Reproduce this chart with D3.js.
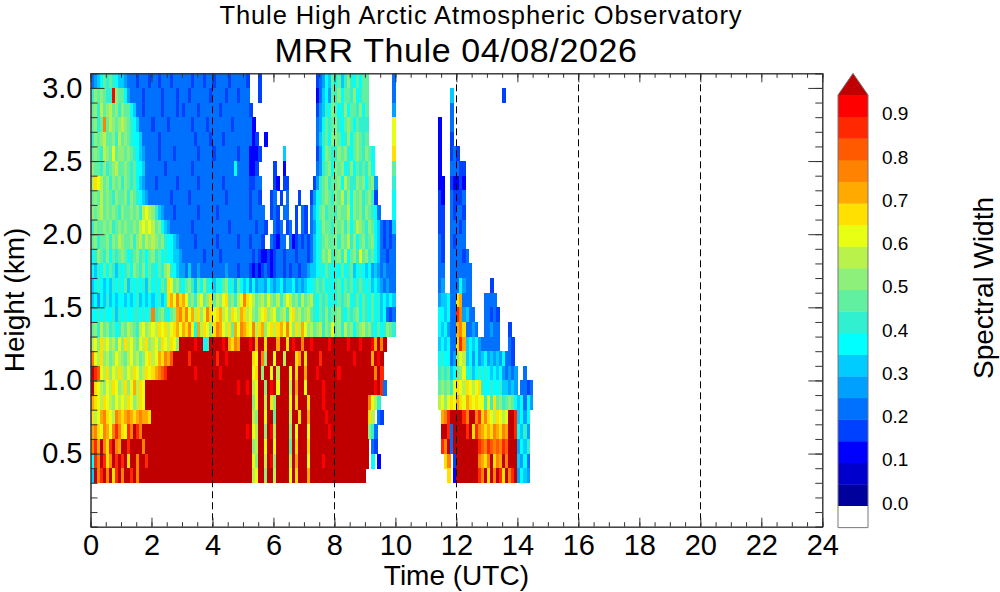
<!DOCTYPE html>
<html>
<head>
<meta charset="utf-8">
<script src="https://cdn.jsdelivr.net/npm/d3@7"></script>
<style>
  body { margin: 0; background: #fff; }
  text { font-family: "Liberation Sans", Arial, Helvetica, sans-serif; fill: #000; }
</style>
</head>
<body>
<div id="chart"></div>
<script>
// Bottom of each range gate (km), top row first
var gateBase = [3.0, 2.9, 2.8, 2.7, 2.6, 2.5, 2.4, 2.3, 2.2, 2.1, 2.0, 1.9, 1.8, 1.7,
                1.6, 1.5, 1.4, 1.3, 1.2, 1.1, 1.0, 0.9, 0.8, 0.7, 0.6, 0.5, 0.4, 0.3];
var gateDepth = 0.1;
var timeStep = 0.1;   // hours per column, groups of 10 = one hour

// spectral width class per cell ("." = no echo), see levelCodes / bandEdges
var widthRows = [
  "4567989876 6544434443 4434443444 4443444344 3444434444 43...3.... .......... ....345769 7968a87979 9........4 .......... .......... .......... .......... ..........",
  "8a9a988ia9 9754444344 4443444434 4434444443 4444344434 44...3.... .......... ....246759 8a7998a789 9........4 .......... ........6. .......... .....3.... ..........",
  "9a8b9ab9a8 a997644344 4443444434 3444434444 4434444444 443....... .......... ....35687a 978a7998a7 9........5 .......... ........4. .......... .......... ..........",
  "9a89f9ba9a ba98764444 3444434444 4443444434 4444443444 4442...... .......... ....457989 a879a97988 8........c .......... ....2...4. .......... .......... ..........",
  "8a9ab99a8b 9a98776444 4434444444 4444344443 4443444444 44423..2.. .......... ....46897a a978a79a98 9........c .......... ....2...3. .......... .......... ..........",
  "9a98ba9c9a a9a9876544 4434444344 4444434444 3444444434 442223.... ...6...... ....357a98 8a9a879a98 a97......d .......... ....2...34 3......... .......... ..........",
  "a998a89ab9 9a98977644 4444344444 4443444444 4444444744 44223..... 3..2...... ....4589a7 a9a78a7989 8a7......9 .......... ....2...44 433....... .......... ..........",
  "bdcb9a8a9a 8a98976544 4344444434 4444434444 4443444444 443344.... 32.33..... ...3589a89 9a7b988a9a 79a5.....8 .......... ....22..32 232....... .......... ..........",
  "9a9b9a98a9 9a8a987654 4444443444 4434444444 4444344444 443443...3 4.3.4...3. ..35789a98 a9b8a7a9a8 9a83.....7 .......... ....32..43 334....... .......... ..........",
  "a9ab9a9a98 a99a9a8bcb a865444344 4444434444 4344444444 4434444..3 43.44..3.4 3.4679a899 8a99b7a9a8 a9874....7 .......... ....33..43 443....... .......... ..........",
  "8a99a9a89a 9a99a9bcbc b9a7654444 4443444444 4444434444 44443443.. 434.34.3.4 3.4578a998 a9a8a79ba9 8a97643436 .......... ....33..44 434....... .......... ..........",
  "9a899a8a9b a99a8ab9ba ba9a877654 4444344444 4344444434 4434443..4 3244.42343 4346789a99 a8a9b8a79a 89a7643434 .......... ....43..43 444....... .......... ..........",
  "78a98a7989 a9789a8979 a897877665 4444444344 4434444444 4443432232 3443444344 434678a9b8 9a8b79a8c9 a897644344 .......... ....43..44 4434...... .......... ..........",
  "7687979868 7897a98a79 8798ab8765 5464454444 4444544434 4432323432 3443434434 4566787987 8797896787 6756545444 .......... ....44..44 44444..... .......... ..........",
  "6787676878 7968787869 78798dc9a8 79a8697a87 6879a78697 6757566576 5675667565 6778989787 8979897898 7867654544 .......... ....45..44 47544..... .3........ ..........",
  "6757686767 7676786767 67867decfd ec9a8bc9ad 9bacd9a8bc fdcb9ab9ca 9b8acb9a8b 9ab8798978 7989a78979 8797867676 .......... ....566744 de444....4 444....... ..........",
  "7787877868 7877887878 f89a879aef dfcebdacfd cdebcadcbe dbca9bcdab c9ab8cdab9 ab98798a89 9a87989a79 8797867434 .......... ....776744 hf5644...4 4343...... ..........",
  "9a8b9a8978 a9ba98bcab cbdcdbcdec edfc7ebdca dfecbd9ecf edcfbdeacd bdecfcadbe cab9ab8a9c 9a8b9a79ab 9a87978a98 .......... ....767544 efd4454..4 4544...3.. ..........",
  "bcadbcab9c adbca9cbda bcadcbdcaj jjjjijj78j jjjijedfej jjijejjdjj jejjdjijjf jjijjjjjij jjjjijjjij jjiejfj... .......... ....676744 dhe6767544 4444...43. ..........",
  "fcbdab9acb a9bcab9acd bcedfegjjj jjhjjjjjjj jhjjijjjjj jjjdcjfajj cjjbjjjdej djjjjhjjjj jjjjjjijjj jjejij.... .......... ....787745 acb6757567 565657443. ..........",
  "jhgcbdacbd bacbdcabdc defghjjjjj jjjjijjjjj jjijjjjjjj jjjcdjajjc jbjjjcjdjj ejjjijjjjj jijjjjjjjj jjjfjh.... .......... ....898967 9ac7867878 7676754545 ..4.......",
  "jdcbacbdca bdacebdcjj jjjjjjjjjj jjjjjjjjjj jjjjjjjjij jijbcjjaji jcjjjbjejj cjjjjjijjj jjjjjjjjjj jjjijh4... .......... ....9a9a8c dcbdcbcd87 7877866565 .4434.....",
  "edcbdcbacb cbdcabdcjj jjjjjjjjjj jjjjjjjjjj jjjjjjjjjj jjjacjjbjd ajjjjcjdjj jdjjjjijjj jjjjjjjjjj jfcb8..... .......... ....bcacdc edcedcdcc8 c8d9a89a97 67475.....",
  "dbcefdcbfe defedefeed jjjjjjjjjj jjjjjjjjjj jjjjjjjjjj jjjbajjcjj 9jjjjbjjdj jejjjjjijj jjjjjjjjjj jdb.43.... .......... .....efhjj jjhfjjfhdf dcbdcbcjjh 6757......",
  "efdcfecfhf dchfjhfjjj jjjjjjjjjj jjjjjjjjjj jjjjjjjjjj jijcbjjaji bjjjjajcjj jcjjjjjjij jjjjjjjjjj ja84...... .......... .....jjh4j jjjhjdhfed edfedfejjh 7685......",
  "fhejfdhjfe jjhjjjjfjj jjjjjjjjjj jjjjjjjjjj jjjjjjjjjj jjjabjjcjj cjjjj9jdjj jdjjjjjjjj jjjjjjjjjj j.43...... .......... .....hfj4j jjjjjjjhgf hgfgfhgjjj 5768......",
  "7hfjhdfjhj hjdjjfjjhj jjjjjjjjjj jjjjjjjjjj jjjjjjjjjj jjjcajjbji ajjjjbjejj jcjjjjijjj jjjjjjjjjj j.7.2..... .......... ......df.3 jjjjjjjfed fjdfejfjjj 6574......",
  "6jfhjfjdhj fjjhjfjjjj jjjjjjjjjj jjjjjjjjjj jjjjjjjjjj jjjbcjjajj bjjjjcjdjj jejjjjjjjj jjjjjjjjjj .......... .......... .......d.2 jjjjjjjhfj djfjhdjfhj 5765......"
];

// colour classes: 0.00-0.05 ... 0.90-0.95, then over-range
var levelCodes = "0123456789abcdefghij";
var bandEdges = [0.00, 0.05, 0.10, 0.15, 0.20, 0.25, 0.30, 0.35, 0.40, 0.45,
                 0.50, 0.55, 0.60, 0.65, 0.70, 0.75, 0.80, 0.85, 0.90, 0.95];
var bandColors = ["#00009c", "#0000cc", "#0000ff", "#0040ff", "#0070ff", "#00a0ff", "#00ccff",
                  "#00ffff", "#30f0d0", "#60f0a0", "#8cf07a", "#b8f24a", "#e8ff14", "#ffe000",
                  "#ffaa00", "#ff8200", "#ff5a00", "#ff2800", "#ff0000", "#c00000"];
var colorbarTicks = [0.0, 0.1, 0.2, 0.3, 0.4, 0.5, 0.6, 0.7, 0.8, 0.9];

var timeTicks = [0, 2, 4, 6, 8, 10, 12, 14, 16, 18, 20, 22, 24];
var heightTicks = [0.5, 1.0, 1.5, 2.0, 2.5, 3.0];
var markerHours = [4, 8, 12, 16, 20];

var svgWidth = 1000;
var svgHeight = 592;
var plot = { left: 90.5, right: 822.3, top: 73.3, bottom: 526.7 };

var svg = d3.select("#chart")
    .append("svg")
    .attr("width", svgWidth)
    .attr("height", svgHeight);

var xScale = d3.scaleLinear().domain([0, 24]).range([plot.left, plot.right]);
var yScale = d3.scaleLinear().domain([0, 3.1]).range([plot.bottom, plot.top]);
var colorScale = d3.scaleThreshold().domain(bandEdges.slice(1)).range(bandColors);

// decode rows into cells
var cells = [];
widthRows.forEach(function(row, r) {
    row.replace(/ /g, "").split("").forEach(function(ch, i) {
        if (ch === ".") return;
        cells.push({
            time: i * timeStep,
            base: gateBase[r],
            width: bandEdges[levelCodes.indexOf(ch)] + 0.025
        });
    });
});

svg.append("g")
    .attr("shape-rendering", "crispEdges")
    .selectAll("rect")
    .data(cells)
    .enter()
    .append("rect")
    .attr("x", d => xScale(d.time))
    .attr("y", d => yScale(d.base + gateDepth))
    .attr("width", d => xScale(d.time + timeStep) - xScale(d.time) + 0.6)
    .attr("height", d => yScale(d.base) - yScale(d.base + gateDepth) + 0.6)
    .attr("fill", d => colorScale(d.width));

// dashed hour markers
svg.append("g")
    .selectAll("line")
    .data(markerHours)
    .enter()
    .append("line")
    .attr("x1", d => Math.round(xScale(d)) + 0.5)
    .attr("x2", d => Math.round(xScale(d)) + 0.5)
    .attr("y1", plot.top)
    .attr("y2", plot.bottom)
    .attr("stroke", "#000")
    .attr("stroke-width", 1)
    .attr("stroke-dasharray", "7,4");

// axes
var minorTime = d3.range(0, 24.01, 0.5);
var minorHeight = d3.range(0, 3.101, 0.1);

function styleAxis(g, fontSize) {
    g.selectAll(".domain").attr("stroke", "#333");
    g.selectAll(".tick line").attr("stroke", "#333");
    g.selectAll("text")
        .attr("font-size", fontSize)
        .attr("font-family", "'Liberation Sans', Arial, sans-serif")
        .attr("fill", "#000");
}

svg.append("g")
    .attr("transform", `translate(0, ${plot.bottom})`)
    .call(d3.axisBottom(xScale).tickValues(minorTime).tickSize(-4.5).tickFormat(""))
    .call(g => styleAxis(g, 29));
svg.append("g")
    .attr("transform", `translate(0, ${plot.bottom})`)
    .call(d3.axisBottom(xScale).tickValues(timeTicks).tickSizeInner(-9).tickSizeOuter(0)
        .tickPadding(8).tickFormat(d3.format("d")))
    .call(g => styleAxis(g, 29));
svg.append("g")
    .attr("transform", `translate(0, ${plot.top})`)
    .call(d3.axisTop(xScale).tickValues(minorTime).tickSize(-4.5).tickFormat(""))
    .call(g => styleAxis(g, 29));
svg.append("g")
    .attr("transform", `translate(0, ${plot.top})`)
    .call(d3.axisTop(xScale).tickValues(timeTicks).tickSizeInner(-9).tickSizeOuter(0).tickFormat(""))
    .call(g => styleAxis(g, 29));

svg.append("g")
    .attr("transform", `translate(${plot.left}, 0)`)
    .call(d3.axisLeft(yScale).tickValues(minorHeight).tickSize(-7).tickFormat(""))
    .call(g => styleAxis(g, 29));
svg.append("g")
    .attr("transform", `translate(${plot.left}, 0)`)
    .call(d3.axisLeft(yScale).tickValues(heightTicks).tickSizeInner(-14).tickSizeOuter(0)
        .tickPadding(8).tickFormat(d3.format(".1f")))
    .call(g => styleAxis(g, 29));
svg.append("g")
    .attr("transform", `translate(${plot.right}, 0)`)
    .call(d3.axisRight(yScale).tickValues(minorHeight).tickSize(-7).tickFormat(""))
    .call(g => styleAxis(g, 29));
svg.append("g")
    .attr("transform", `translate(${plot.right}, 0)`)
    .call(d3.axisRight(yScale).tickValues(heightTicks).tickSizeInner(-14).tickSizeOuter(0).tickFormat(""))
    .call(g => styleAxis(g, 29));

// titles
svg.append("text")
    .attr("x", 481)
    .attr("y", 23.5)
    .attr("text-anchor", "middle")
    .attr("font-size", 25.5)
    .attr("letter-spacing", 0.9)
    .text("Thule High Arctic Atmospheric Observatory");

svg.append("text")
    .attr("x", 456)
    .attr("y", 61.5)
    .attr("text-anchor", "middle")
    .attr("font-size", 34)
    .attr("letter-spacing", 0.6)
    .text("MRR Thule 04/08/2026");

svg.append("text")
    .attr("x", (plot.left + plot.right) / 2)
    .attr("y", 585)
    .attr("text-anchor", "middle")
    .attr("font-size", 28)
    .text("Time (UTC)");

svg.append("text")
    .attr("transform", "translate(24, 300) rotate(-90)")
    .attr("text-anchor", "middle")
    .attr("font-size", 28)
    .text("Height (km)");

// colorbar
var cb = { left: 838, right: 868 };
var cbScale = d3.scaleLinear().domain([0, 0.95]).range([506, 95]);
var cbGroup = svg.append("g");

cbGroup.selectAll("rect.band")
    .data(bandEdges.slice(0, 19))
    .enter()
    .append("rect")
    .attr("class", "band")
    .attr("x", cb.left)
    .attr("width", cb.right - cb.left)
    .attr("y", d => cbScale(d + 0.05))
    .attr("height", d => cbScale(d) - cbScale(d + 0.05) + 0.4)
    .attr("fill", d => colorScale(d + 0.025));

cbGroup.append("path")
    .attr("d", `M${cb.left},${cbScale(0.95)} L${(cb.left + cb.right) / 2},${cbScale(1.0)} L${cb.right},${cbScale(0.95)} Z`)
    .attr("fill", colorScale(1.0));

cbGroup.append("rect")
    .attr("x", cb.left)
    .attr("width", cb.right - cb.left)
    .attr("y", cbScale(0))
    .attr("height", cbScale(-0.05) - cbScale(0))
    .attr("fill", "#fff");

cbGroup.append("path")
    .attr("d", `M${cb.left},${cbScale(-0.05)} L${cb.left},${cbScale(0.95)} L${(cb.left + cb.right) / 2},${cbScale(1.0)} L${cb.right},${cbScale(0.95)} L${cb.right},${cbScale(-0.05)} Z`)
    .attr("fill", "none")
    .attr("stroke", "#777")
    .attr("stroke-width", 1);

cbGroup.selectAll("text")
    .data(colorbarTicks)
    .enter()
    .append("text")
    .attr("x", 882)
    .attr("y", d => cbScale(d) - 3)
    .attr("dy", "0.35em")
    .attr("font-size", 19)
    .text(d => d3.format(".1f")(d));

svg.append("text")
    .attr("transform", "translate(993, 288) rotate(-90)")
    .attr("text-anchor", "middle")
    .attr("font-size", 28)
    .text("Spectral Width");
</script>
</body>
</html>
